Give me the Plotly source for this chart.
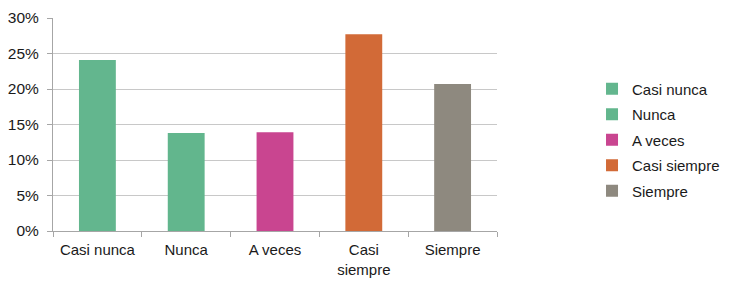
import plotly.graph_objects as go

categories = ["Casi nunca", "Nunca", "A veces", "Casi siempre", "Siempre"]
tick_labels = ["Casi nunca", "Nunca", "A veces", "Casi<br>siempre", "Siempre"]
values = [0.241, 0.138, 0.139, 0.277, 0.207]
colors = ["#63b68e", "#62b68d", "#c94590", "#d26a37", "#8e897f"]

fig = go.Figure()
for cat, val, col in zip(categories, values, colors):
    fig.add_trace(go.Bar(
        x=[cat], y=[val], name=cat, width=0.415, legendgroup=cat,
        marker=dict(color=col, line=dict(width=0)),
    ))

fig.update_layout(
    width=732, height=282,
    margin=dict(l=45, r=243, t=10, b=59),
    barmode="overlay",
    plot_bgcolor="white", paper_bgcolor="white",
    font=dict(family="Liberation Sans, Arial", size=15, color="#1a1a1a"),
    legend=dict(x=1.214, y=0.427, yanchor="middle", xanchor="left",
                font=dict(size=15), tracegroupgap=3, itemwidth=30),
    showlegend=True,
)
fig.update_xaxes(
    categoryorder="array", categoryarray=categories,
    tickvals=categories, ticktext=tick_labels,
    showline=True, linecolor="#a6a6a6", linewidth=1,
    ticks="outside", tickson="boundaries", ticklen=5, tickcolor="#a6a6a6",
    showgrid=False, automargin=False, ticklabelstandoff=5,
)
fig.update_yaxes(
    range=[0, 0.30], dtick=0.05, tickformat=".0%",
    showline=True, linecolor="#a6a6a6", linewidth=1,
    ticks="outside", ticklen=5, tickcolor="#a6a6a6",
    showgrid=True, gridcolor="#c8c8c8", gridwidth=1,
    zeroline=False, automargin=False, ticklabelstandoff=5,
    tickfont=dict(size=15.5),
)

fig.write_html("out.html")
